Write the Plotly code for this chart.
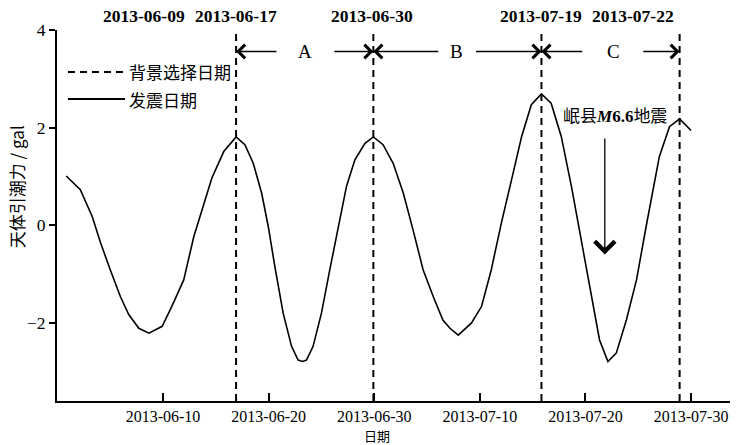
import plotly.graph_objects as go

# ---- data ----
dates = [
    '2013-05-31 20:00', '2013-06-02 04:00', '2013-06-03 07:00', '2013-06-04 02:00',
    '2013-06-05 00:00', '2013-06-05 23:00', '2013-06-06 18:00', '2013-06-07 17:00',
    '2013-06-08 16:00', '2013-06-09 22:00', '2013-06-10 20:00', '2013-06-11 23:00',
    '2013-06-12 22:00', '2013-06-13 20:00', '2013-06-14 15:00', '2013-06-15 18:00',
    '2013-06-16 22:00', '2013-06-17 18:00', '2013-06-18 13:00', '2013-06-19 08:00',
    '2013-06-19 23:00', '2013-06-20 14:00', '2013-06-21 09:00', '2013-06-22 04:00',
    '2013-06-22 19:00', '2013-06-23 05:00', '2013-06-23 14:00', '2013-06-24 05:00',
    '2013-06-25 00:00', '2013-06-25 19:00', '2013-06-26 14:00', '2013-06-27 09:00',
    '2013-06-28 04:00', '2013-06-29 03:00', '2013-06-29 22:00', '2013-06-30 20:00',
    '2013-07-01 19:00', '2013-07-02 18:00', '2013-07-03 16:00', '2013-07-04 15:00',
    '2013-07-05 14:00', '2013-07-06 12:00', '2013-07-07 04:00', '2013-07-07 23:00',
    '2013-07-09 05:00', '2013-07-10 04:00', '2013-07-11 02:00', '2013-07-12 01:00',
    '2013-07-13 00:00', '2013-07-13 23:00', '2013-07-14 21:00', '2013-07-15 20:00',
    '2013-07-16 18:00', '2013-07-17 17:00', '2013-07-18 16:00', '2013-07-19 15:00',
    '2013-07-20 13:00', '2013-07-21 08:00', '2013-07-22 03:00', '2013-07-22 22:00',
    '2013-07-23 21:00', '2013-07-24 20:00', '2013-07-25 18:00', '2013-07-26 09:00',
    '2013-07-27 00:00', '2013-07-27 23:00', '2013-07-28 22:00', '2013-07-30 00:00',
]
tide = [
    1.01, 0.73, 0.18, -0.36,
    -0.91, -1.46, -1.83, -2.11,
    -2.21, -2.07, -1.66, -1.12,
    -0.23, 0.39, 0.97, 1.51,
    1.81, 1.65, 1.27, 0.66,
    -0.02, -0.84, -1.80, -2.48,
    -2.76, -2.79, -2.76, -2.48,
    -1.80, -0.91, -0.02, 0.80,
    1.34, 1.68, 1.81, 1.65,
    1.27, 0.66, -0.09, -0.91,
    -1.46, -1.94, -2.11, -2.25,
    -2.00, -1.66, -0.91, 0.05,
    0.93, 1.82, 2.47, 2.69,
    2.50, 1.82, 0.80, -0.36,
    -1.39, -2.35, -2.79, -2.62,
    -1.94, -1.12, -0.02, 0.73,
    1.41, 2.02, 2.18, 1.94,
]

# background-selection dates (dashed vertical lines)
bg_dates = ['2013-06-16 22:00', '2013-06-29 22:00', '2013-07-15 20:00', '2013-07-28 22:00']

# top axis ticks and labels
top_tick_dates = ['2013-06-08 18:00', '2013-06-16 22:00', '2013-06-29 22:00',
                  '2013-07-15 20:00', '2013-07-21 20:00']
top_labels = ['2013-06-09', '2013-06-17', '2013-06-30', '2013-07-19', '2013-07-22']
top_label_dates = ['2013-06-08 04:00', '2013-06-16 21:00', '2013-06-29 19:00',
                   '2013-07-15 18:00', '2013-07-24 13:00']

# bottom axis ticks
bottom_ticks = ['2013-06-10', '2013-06-20', '2013-06-30', '2013-07-10', '2013-07-20', '2013-07-30']
bottom_labels = ['2013-06-10', '2013-06-20', '2013-06-30', '2013-07-10', '2013-07-20', '2013-07-30']

# period arrows A, B, C
period_names = ['A', 'B', 'C']
period_start = ['2013-06-16 22:00', '2013-06-29 22:00', '2013-07-15 20:00']
period_end = ['2013-06-29 22:00', '2013-07-15 20:00', '2013-07-28 22:00']
period_label = ['2013-06-23 10:00', '2013-07-07 19:00', '2013-07-22 16:00']
period_tail_left = ['2013-06-20 21:00', '2013-07-06 05:00', '2013-07-19 20:00']
period_tail_right = ['2013-06-26 02:00', '2013-07-09 12:00', '2013-07-25 08:00']
arrow_level = 3.56

# earthquake marker
quake_date = '2013-07-21 20:00'
quake_arrow_from = 1.81
quake_arrow_to = -0.60
quake_text_date = '2013-07-22 18:00'
quake_text_level = 2.27

x_range = ['2013-05-30 23:00', '2013-08-02 16:30']
y_range = [-3.6, 4]
y_ticks = [-2, 0, 2, 4]

SERIF = 'Liberation Serif'
CJK = 'Noto Sans CJK SC'

fig = go.Figure()
fig.add_trace(go.Scatter(x=dates, y=tide, mode='lines',
                         line=dict(color='black', width=1.6), showlegend=False,
                         hoverinfo='skip'))

for d in bg_dates:
    fig.add_shape(type='line', xref='x', yref='paper', x0=d, x1=d, y0=0, y1=1,
                  line=dict(color='black', width=2, dash='7px,5px'))

annotations = []
for lbl, d in zip(top_labels, top_label_dates):
    annotations.append(dict(x=d, xref='x', y=1, yref='paper', text='<b>' + lbl + '</b>',
                            showarrow=False, yanchor='bottom', yshift=2,
                            font=dict(family=SERIF, size=17.5, color='black')))

HEAD = dict(showarrow=True, arrowhead=4, arrowsize=1.9, arrowwidth=1.4, arrowcolor='black')
for name, s, e, lab, tl, tr in zip(period_names, period_start, period_end, period_label,
                                   period_tail_left, period_tail_right):
    annotations.append(dict(x=lab, xref='x', y=arrow_level, yref='y', text=name,
                            showarrow=False, font=dict(family=SERIF, size=19, color='black')))
    annotations.append(dict(x=s, y=arrow_level, xref='x', yref='y', ax=tl, ay=arrow_level,
                            axref='x', ayref='y', text='', **HEAD))
    annotations.append(dict(x=e, y=arrow_level, xref='x', yref='y', ax=tr, ay=arrow_level,
                            axref='x', ayref='y', text='', **HEAD))

annotations.append(dict(x=quake_date, y=quake_arrow_to, xref='x', yref='y',
                        ax=quake_date, ay=quake_arrow_from, axref='x', ayref='y',
                        text='', showarrow=True, arrowhead=4, arrowsize=3,
                        arrowwidth=1.3, arrowcolor='black'))
annotations.append(dict(x=quake_text_date, y=quake_text_level, xref='x', yref='y',
                        text='<span style="font-family:Noto Sans CJK SC">岷县</span>'
                             '<b><i>M</i>6.6</b><span style="font-family:Noto Sans CJK SC">地震</span>',
                        showarrow=False, font=dict(family=SERIF, size=17, color='black')))

# manual legend
legend_items = [('背景选择日期', '7px,5px', 0.887), ('发震日期', 'solid', 0.814)]
for txt, dash, yy in legend_items:
    fig.add_shape(type='line', xref='paper', yref='paper', x0=0.0163, x1=0.101,
                  y0=yy, y1=yy, line=dict(color='black', width=2, dash=dash))
    annotations.append(dict(x=0.104, y=yy, xref='paper', yref='paper', text=txt,
                            showarrow=False, xanchor='left', yanchor='middle',
                            font=dict(family=CJK, size=17, color='black')))

# axis titles
annotations.append(dict(x=-0.059, y=0.577, xref='paper', yref='paper', text='天体引潮力 / gal',
                        textangle=-90, showarrow=False, xanchor='center', yanchor='middle',
                        font=dict(family=CJK, size=17, color='black')))
annotations.append(dict(x=0.475, y=-0.094, xref='paper', yref='paper', text='日期',
                        showarrow=False, xanchor='center', yanchor='middle', borderpad=0,
                        font=dict(family=CJK, size=13, color='black')))

fig.update_layout(
    width=739, height=445,
    margin=dict(l=57, r=9, t=30, b=44, autoexpand=False),
    paper_bgcolor='white', plot_bgcolor='white',
    showlegend=False,
    annotations=annotations,
    xaxis=dict(type='date', range=x_range, tickvals=bottom_ticks, ticktext=bottom_labels,
               ticks='inside', ticklen=8, tickwidth=2, tickcolor='black', automargin=False,
               showline=True, linewidth=2, linecolor='black', showgrid=False, zeroline=False,
               tickfont=dict(family=SERIF, size=16, color='black')),
    xaxis2=dict(type='date', range=x_range, overlaying='x', side='top', anchor='y',
                tickvals=top_tick_dates, ticks='inside', ticklen=8, tickwidth=2,
                tickcolor='black', showticklabels=False, showline=True, linewidth=2,
                linecolor='black', showgrid=False, zeroline=False, automargin=False),
    yaxis=dict(range=y_range, tickvals=y_ticks, ticks='outside', ticklen=6, tickwidth=2,
               tickcolor='black', showline=True, linewidth=2, linecolor='black',
               showgrid=False, zeroline=False, automargin=False,
               tickfont=dict(family=SERIF, size=17.5, color='black')),
    yaxis2=dict(range=y_range, overlaying='y', side='right', anchor='x',
                tickvals=[-2, 0, 2], ticks='inside', ticklen=8, tickwidth=2,
                tickcolor='black', showticklabels=False, showline=True, linewidth=2,
                linecolor='black', showgrid=False, zeroline=False, automargin=False),
)

fig.write_html('out.html', config={'displayModeBar': False},
               post_script="document.body.style.margin='0';document.body.style.overflow='hidden';")
